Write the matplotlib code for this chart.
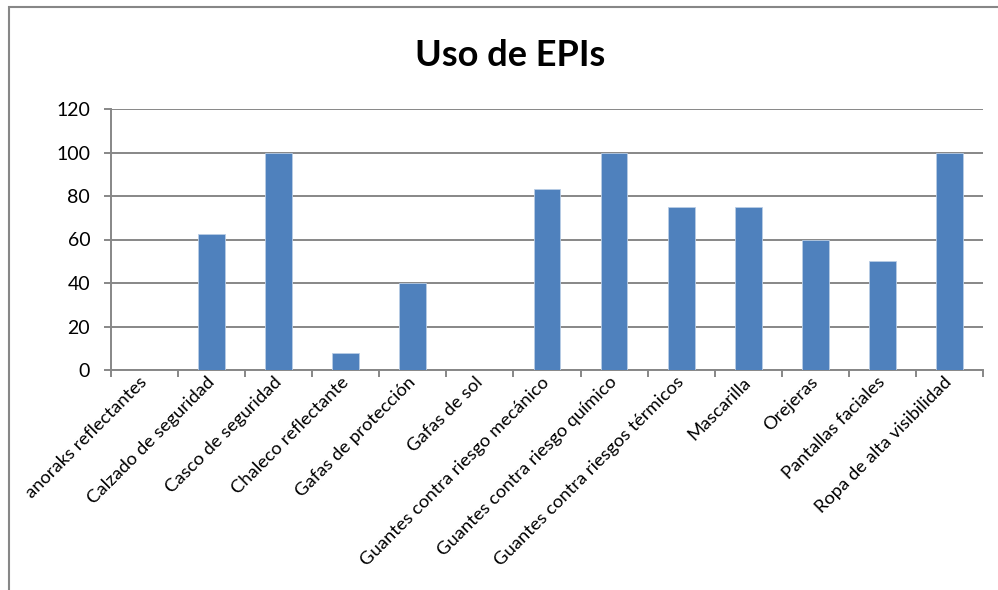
import matplotlib.pyplot as plt
import numpy as np
from matplotlib.patches import Rectangle

# values
categories = ['anoraks reflectantes', 'Calzado de seguridad', 'Casco de seguridad',
              'Chaleco reflectante', 'Gafas de protección', 'Gafas de sol',
              'Guantes contra riesgo mecánico', 'Guantes contra riesgo químico',
              'Guantes contra riesgos térmicos', 'Mascarilla', 'Orejeras',
              'Pantallas faciales', 'Ropa de alta visibilidad']
values = [0, 62.5, 100, 8, 40, 0, 83.3, 100, 75, 75, 60, 50, 100]
yticks = [0, 20, 40, 60, 80, 100, 120]

plt.rcParams['font.family'] = ['Lato', 'DejaVu Sans']
grey = '#878787'

fig = plt.figure(figsize=(9.98, 5.90), dpi=100)
ax = fig.add_axes([111/998, 1 - 370/590, (983 - 111)/998, (370 - 109)/590])

x = np.arange(len(categories))
ax.bar(x, values, width=0.4, color='#4F81BD', edgecolor='#B9CDE5', linewidth=0.6, zorder=3)

ax.set_xlim(-0.5, len(categories) - 0.5)
ax.set_ylim(0, 120)
ax.set_yticks(yticks)
ax.yaxis.grid(True, color=grey, linewidth=1.4)
ax.set_axisbelow(True)

for s in ['top', 'right']:
    ax.spines[s].set_visible(False)
for s in ['left', 'bottom']:
    ax.spines[s].set_color(grey)
    ax.spines[s].set_linewidth(1.4)

# category labels at centres, tick marks between categories
ax.set_xticks(x)
ax.set_xticklabels(categories, rotation=45, ha='right', va='center',
                   rotation_mode='anchor', fontsize=13.2)
ax.tick_params(axis='x', which='major', length=0, pad=7)
ax.set_xticks(np.arange(-0.5, len(categories)), minor=True)
ax.tick_params(axis='x', which='minor', length=5, width=1.4, color=grey)
ax.tick_params(axis='y', length=5, width=1.4, color=grey, labelsize=14, pad=10)

fig.text(510/998, 1 - 55/590, 'Uso de EPIs', ha='center', va='center',
         fontsize=26, fontweight='bold')

# chart frame, clipped at right and bottom like the screenshot
fig.patches.append(Rectangle((9/998, -0.05), 1.2, 1 - 7/590 + 0.05,
                             transform=fig.transFigure, fill=False,
                             edgecolor=grey, linewidth=1.5))

fig.savefig('out.png', dpi=100)
